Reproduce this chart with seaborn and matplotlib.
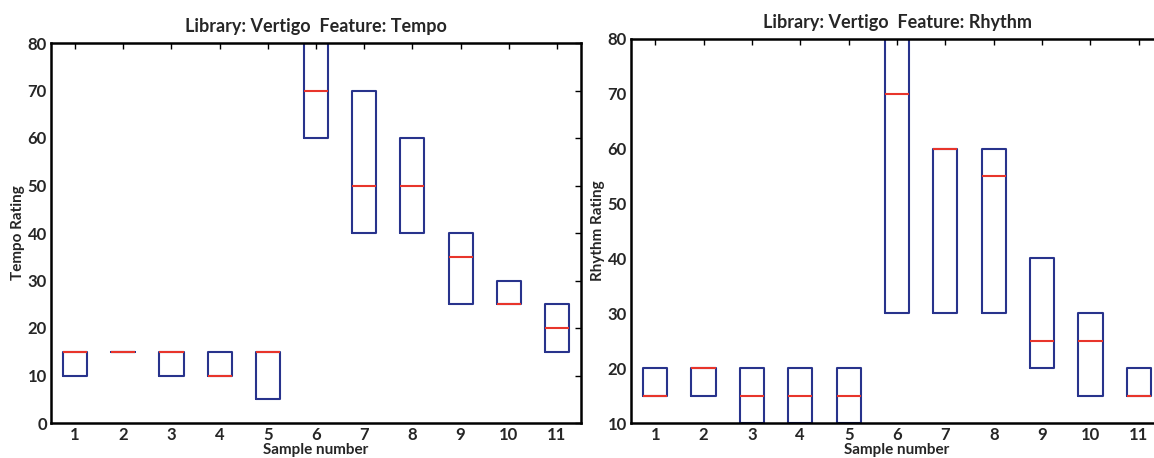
import matplotlib
matplotlib.use("Agg")
import matplotlib.pyplot as plt
import seaborn as sns
import pandas as pd

samples = [str(i) for i in range(1, 12)]

tempo_q1 = [10, 15, 10, 10, 5, 60, 40, 40, 25, 25, 15]
tempo_med = [15, 15, 15, 10, 15, 70, 50, 50, 35, 25, 20]
tempo_q3 = [15, 15, 15, 15, 15, 80, 70, 60, 40, 30, 25]

rhythm_q1 = [15, 15, 10, 10, 10, 30, 30, 30, 20, 15, 15]
rhythm_med = [15, 20, 15, 15, 15, 70, 60, 55, 25, 25, 15]
rhythm_q3 = [20, 20, 20, 20, 20, 80, 60, 60, 40, 30, 20]

NAVY = "#28338c"
RED = "#e8352b"

sns.set_theme(style="white")
plt.rcParams["font.family"] = ["Lato", "DejaVu Sans"]
plt.rcParams["font.weight"] = "bold"


def build(q1, med, q3):
    rows = []
    for s, a, m, b in zip(samples, q1, med, q3):
        for v in (a, a, m, b, b):
            rows.append({"Sample": s, "Rating": v})
    return pd.DataFrame(rows)


fig = plt.figure(figsize=(11.54, 4.58), dpi=100)
W, H = 1154, 458
ax1 = fig.add_axes([51 / W, (H - 423) / H, 530 / W, 380 / H])
ax2 = fig.add_axes([631 / W, (H - 423) / H, 532 / W, 384 / H])


def draw(ax, q1, med, q3, title, ylabel, ylim, yticks):
    df = build(q1, med, q3)
    sns.boxplot(data=df, x="Sample", y="Rating", order=samples, ax=ax,
                width=0.5, fill=False, showcaps=False, showfliers=False,
                whis=0,
                boxprops={"color": NAVY, "linewidth": 1.5},
                medianprops={"color": RED, "linewidth": 1.5},
                whiskerprops={"linewidth": 0})
    ax.set_xlim(-0.5, 10.5)
    ax.set_ylim(*ylim)
    ax.set_yticks(yticks)
    ax.set_title(title, fontsize=13, fontweight="bold", pad=8)
    ax.set_xlabel("Sample number", fontsize=11, fontweight="bold", labelpad=0)
    ax.set_ylabel(ylabel, fontsize=11, fontweight="bold", labelpad=2)
    ax.tick_params(direction="in", top=True, right=True, length=4,
                   width=1, color="black", labelsize=12, pad=3)
    for lab in ax.get_xticklabels() + ax.get_yticklabels():
        lab.set_fontweight("bold")
    for sp in ax.spines.values():
        sp.set_color("black")
        sp.set_linewidth(1.8)
        sp.set_visible(True)


draw(ax1, tempo_q1, tempo_med, tempo_q3, "Library: Vertigo  Feature: Tempo",
     "Tempo Rating", (0, 80), list(range(0, 81, 10)))
draw(ax2, rhythm_q1, rhythm_med, rhythm_q3, "Library: Vertigo  Feature: Rhythm",
     "Rhythm Rating", (10, 80), list(range(10, 81, 10)))

fig.savefig("out.png", dpi=100, facecolor="white")
